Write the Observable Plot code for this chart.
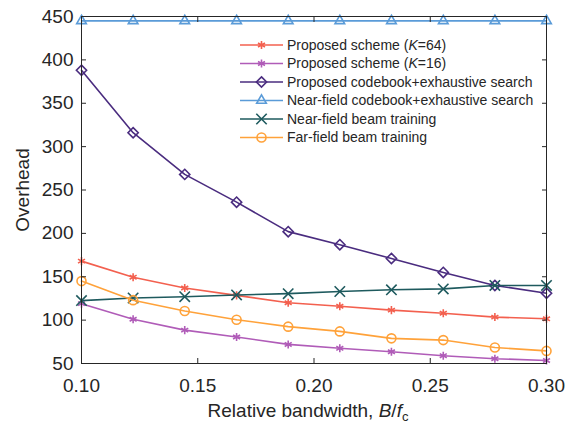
<!DOCTYPE html>
<html>
<head>
<meta charset="utf-8">
<script src="https://cdn.jsdelivr.net/npm/d3@7"></script>
<script src="https://cdn.jsdelivr.net/npm/@observablehq/plot@0.6"></script>
<style>
  html, body { margin: 0; padding: 0; background: #fff; }
  #chart { position: relative; width: 573px; height: 423px; }
  svg { font-family: "Liberation Sans", Arial, Helvetica, sans-serif; }
</style>
</head>
<body>
<div id="chart"></div>
<script>
// ---- Data ----
const bandwidth = [0.1, 0.1222, 0.1444, 0.1667, 0.1889, 0.2111, 0.2333, 0.2556, 0.2778, 0.3];

const proposedK64 = [168, 149.5, 137, 128.5, 120, 116, 111.5, 108, 103.5, 101.5];
const proposedK16 = [119, 101, 88.5, 80.5, 72, 67.5, 63.5, 59, 55.5, 53.5];
const proposedCodebookExhaustive = [388, 316, 268, 236, 202, 187, 171, 155, 140, 131];
const nearFieldCodebookExhaustive = [445, 445, 445, 445, 445, 445, 445, 445, 445, 445];
const nearFieldBeamTraining = [122.5, 125.5, 127, 129, 130.5, 133, 135, 136, 140, 140];
const farFieldBeamTraining = [145, 123, 110.5, 100.5, 92.5, 87, 79, 77, 68.5, 64.5];

const seriesNames = [
  "Proposed scheme (K=64)",
  "Proposed scheme (K=16)",
  "Proposed codebook+exhaustive search",
  "Near-field codebook+exhaustive search",
  "Near-field beam training",
  "Far-field beam training"
];
const seriesValues = [proposedK64, proposedK16, proposedCodebookExhaustive,
  nearFieldCodebookExhaustive, nearFieldBeamTraining, farFieldBeamTraining];
const seriesColors = ["#F3604F", "#B05CB8", "#4A2C7F", "#5A9BD8", "#1E5A5E", "#FFA23A"];
const seriesSymbols = ["asterisk", "asterisk", "diamond2", "triangle2", "times", "circle"];
const seriesRadius = [3.8, 3.8, 4.6, 4.6, 4.8, 4.5];

const xTicks = [0.10, 0.15, 0.20, 0.25, 0.30];
const yTicks = [50, 100, 150, 200, 250, 300, 350, 400, 450];
const yLabel = "Overhead";

// ---- Table ----
const rows = [];
seriesValues.forEach((vals, i) => {
  vals.forEach((v, j) => rows.push({series: seriesNames[i], idx: i, x: bandwidth[j], y: v}));
});

const ink = "#262626";
const marks = [];
seriesNames.forEach((name, i) => {
  const d = rows.filter(r => r.idx === i);
  marks.push(Plot.line(d, {x: "x", y: "y", stroke: seriesColors[i], strokeWidth: 1.6}));
  marks.push(Plot.dot(d, {x: "x", y: "y", symbol: () => seriesSymbols[i], stroke: seriesColors[i],
    fill: "none", r: seriesRadius[i], strokeWidth: 1.6}));
});

const plot = Plot.plot({
  width: 573,
  height: 423,
  marginLeft: 81,
  marginRight: 27,
  marginTop: 16,
  marginBottom: 60,
  style: {fontFamily: '"Liberation Sans", Arial, Helvetica, sans-serif', color: ink, background: "#fff", overflow: "visible"},
  x: {domain: [0.1, 0.3]},
  y: {domain: [50, 450]},
  symbol: {type: "identity"},
  marks: [
    ...marks,
    Plot.frame({stroke: ink, strokeWidth: 1}),
    Plot.axisX({ticks: xTicks, anchor: "bottom", tickSize: -5, tickPadding: 20, tickFormat: d3.format(".2f"), fontSize: 19, label: null, stroke: ink, fill: ink}),
    Plot.axisX({ticks: xTicks, anchor: "top", tickSize: -5, tickFormat: () => "", label: null, stroke: ink}),
    Plot.axisY({ticks: yTicks, anchor: "left", tickSize: -5, tickPadding: 13, fontSize: 19, label: null, stroke: ink, fill: ink}),
    Plot.axisY({ticks: yTicks, anchor: "right", tickSize: -5, tickFormat: () => "", label: null, stroke: ink})
  ]
});

document.getElementById("chart").appendChild(plot);

// ---- Axis titles ----
const svg = d3.select(plot);
svg.append("text")
  .attr("transform", "translate(29,190) rotate(-90)")
  .attr("text-anchor", "middle")
  .attr("font-size", 19)
  .attr("fill", ink)
  .text(yLabel);

const xl = svg.append("text")
  .attr("x", 308).attr("y", 417)
  .attr("text-anchor", "middle")
  .attr("font-size", 19)
  .attr("fill", ink);
xl.append("tspan").text("Relative bandwidth, ");
xl.append("tspan").attr("font-style", "italic").text("B");
xl.append("tspan").text("/");
xl.append("tspan").attr("font-style", "italic").text("f");
xl.append("tspan").attr("font-size", 13).attr("dy", 4).text("c");

// ---- Legend ----
const symMap = {asterisk: d3.symbolAsterisk, diamond2: d3.symbolDiamond2, triangle2: d3.symbolTriangle2, times: d3.symbolTimes, circle: d3.symbolCircle};
const lg = svg.append("g").attr("transform", "translate(240,45)").attr("text-anchor", "start");
seriesNames.forEach((name, i) => {
  const g = lg.append("g").attr("transform", `translate(0,${i * 18.5})`);
  g.append("line").attr("x1", 0).attr("x2", 43).attr("y1", 0).attr("y2", 0)
    .attr("stroke", seriesColors[i]).attr("stroke-width", 1.6);
  g.append("path")
    .attr("transform", "translate(21.5,0)")
    .attr("d", d3.symbol(symMap[seriesSymbols[i]], Math.PI * seriesRadius[i] * seriesRadius[i])())
    .attr("fill", "none").attr("stroke", seriesColors[i]).attr("stroke-width", 1.6);
  const t = g.append("text").attr("x", 47).attr("y", 0).attr("dy", "0.35em")
    .attr("text-anchor", "start")
    .attr("font-size", 14).attr("fill", ink);
  const m = name.match(/^(.*\()K(=.*)$/);
  if (m) {
    t.append("tspan").text(m[1]);
    t.append("tspan").attr("font-style", "italic").text("K");
    t.append("tspan").text(m[2]);
  } else {
    t.text(name);
  }
});
</script>
</body>
</html>
